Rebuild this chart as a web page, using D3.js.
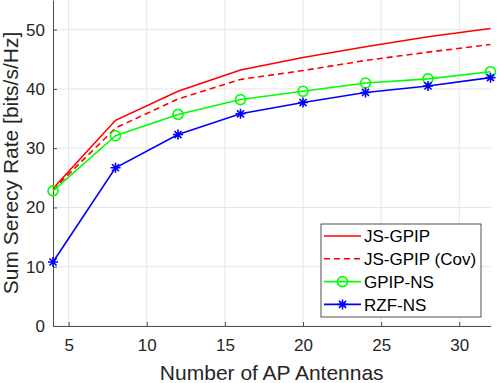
<html>
<head>
  <meta charset="utf-8" />
  <script src="https://cdnjs.cloudflare.com/ajax/libs/d3/7.8.5/d3.min.js"></script>
  <style>
    body { margin: 0; background: #fff; }
    svg { font-family: "Liberation Sans", Arial, sans-serif; }
    .grid line { stroke: #e6e6e6; stroke-width: 1; }
    .axis path, .axis line { stroke: #4d4d4d; }
    .axis text { fill: #262626; font-size: 17px; }
  </style>
</head>
<body>
  <svg></svg>
  <script>
    var antennas   = [4, 8, 12, 16, 20, 24, 28, 32]
    var jsGpip     = [23.2, 34.7, 39.6, 43.2, 45.3, 47.1, 48.8, 50.2]
    var jsGpipCov  = [23.0, 33.4, 38.3, 41.6, 43.1, 44.8, 46.2, 47.5]
    var gpipNs     = [22.8, 32.1, 35.7, 38.2, 39.6, 41.0, 41.7, 42.9]
    var rzfNs      = [10.8, 26.7, 32.3, 35.8, 37.7, 39.4, 40.5, 41.9]
    var xTicks     = [5, 10, 15, 20, 25, 30]
    var yTicks     = [0, 10, 20, 30, 40, 50]

    var series = [
      { name: "JS-GPIP",       values: jsGpip,    color: "#ff0000", dash: null,  marker: null },
      { name: "JS-GPIP (Cov)", values: jsGpipCov, color: "#ff0000", dash: "6,4", marker: null },
      { name: "GPIP-NS",       values: gpipNs,    color: "#00ff00", dash: null,  marker: "circle" },
      { name: "RZF-NS",        values: rzfNs,     color: "#0000ff", dash: null,  marker: "star" }
    ]

    var W = 498, H = 383
    var m = { left: 53, right: 7.5, top: 0, bottom: 57 }
    var svg = d3.select("svg").attr("width", W).attr("height", H)

    var x = d3.scaleLinear().domain([4, 32]).range([m.left, W - m.right])
    var y = d3.scaleLinear().domain([0, 55]).range([H - m.bottom, m.top])

    // grid
    var grid = svg.append("g").attr("class", "grid")
    grid.selectAll("line.v").data(xTicks).enter().append("line")
      .attr("x1", d => x(d)).attr("x2", d => x(d))
      .attr("y1", y(0)).attr("y2", y(55))
    grid.selectAll("line.h").data(yTicks).enter().append("line")
      .attr("x1", x(4)).attr("x2", x(32))
      .attr("y1", d => y(d)).attr("y2", d => y(d))

    // axes, ticks pointing inward like matlab
    svg.append("g").attr("class", "axis")
      .attr("transform", `translate(0,${y(0)})`)
      .call(d3.axisBottom(x).tickValues(xTicks).tickSizeInner(-4).tickSizeOuter(0).tickPadding(13))
    svg.append("g").attr("class", "axis")
      .attr("transform", `translate(${x(4)},0)`)
      .call(d3.axisLeft(y).tickValues(yTicks).tickSizeInner(-4).tickSizeOuter(0).tickPadding(8))

    svg.append("text")
      .attr("x", (x(4) + x(32)) / 2).attr("y", 380)
      .attr("text-anchor", "middle").attr("fill", "#262626").style("font-size", "21px")
      .text("Number of AP Antennas")
    svg.append("text")
      .attr("transform", `translate(17.5,${(y(0) + y(55)) / 2}) rotate(-90)`)
      .attr("text-anchor", "middle").attr("fill", "#262626").style("font-size", "21px")
      .text("Sum Serecy Rate [bits/s/Hz]")

    var line = d3.line().x((d, i) => x(antennas[i])).y(d => y(d))

    function asteriskPath(r) {
      var p = ""
      for (var k = 0; k < 4; k++) {
        var a = k * Math.PI / 4
        p += `M${-r * Math.cos(a)},${-r * Math.sin(a)}L${r * Math.cos(a)},${r * Math.sin(a)}`
      }
      return p
    }

    function drawMarker(g, type, color) {
      if (type === "circle") {
        g.append("circle").attr("r", 5).attr("fill", "none").attr("stroke", color).attr("stroke-width", 1.6)
      } else if (type === "star") {
        g.append("path").attr("d", asteriskPath(5)).attr("fill", "none").attr("stroke", color).attr("stroke-width", 1.6)
      }
    }

    var sg = svg.selectAll("g.series").data(series).enter().append("g").attr("class", "series")
    sg.append("path")
      .attr("d", d => line(d.values))
      .attr("fill", "none")
      .attr("stroke", d => d.color)
      .attr("stroke-width", 1.6)
      .attr("stroke-dasharray", d => d.dash)
    sg.each(function(s) {
      if (!s.marker) return
      var g = d3.select(this)
      s.values.forEach(function(v, i) {
        drawMarker(g.append("g").attr("transform", `translate(${x(antennas[i])},${y(v)})`), s.marker, s.color)
      })
    })

    // legend
    var lg = svg.append("g").attr("transform", "translate(321,224)")
    lg.append("rect").attr("width", 160).attr("height", 93)
      .attr("fill", "#fff").attr("stroke", "#262626").attr("stroke-width", 0.8)
    var item = lg.selectAll("g.item").data(series).enter().append("g")
      .attr("transform", (d, i) => `translate(0,${12 + i * 22.8})`)
    item.append("line").attr("x1", 3).attr("x2", 40).attr("y1", 0).attr("y2", 0)
      .attr("stroke", d => d.color).attr("stroke-width", 1.6)
      .attr("stroke-dasharray", d => d.dash)
    item.each(function(s) {
      if (s.marker) drawMarker(d3.select(this).append("g").attr("transform", "translate(21.5,0)"), s.marker, s.color)
    })
    item.append("text").attr("x", 43).attr("dy", "0.36em")
      .attr("fill", "#000").style("font-size", "17px")
      .text(d => d.name)
  </script>
</body>
</html>
